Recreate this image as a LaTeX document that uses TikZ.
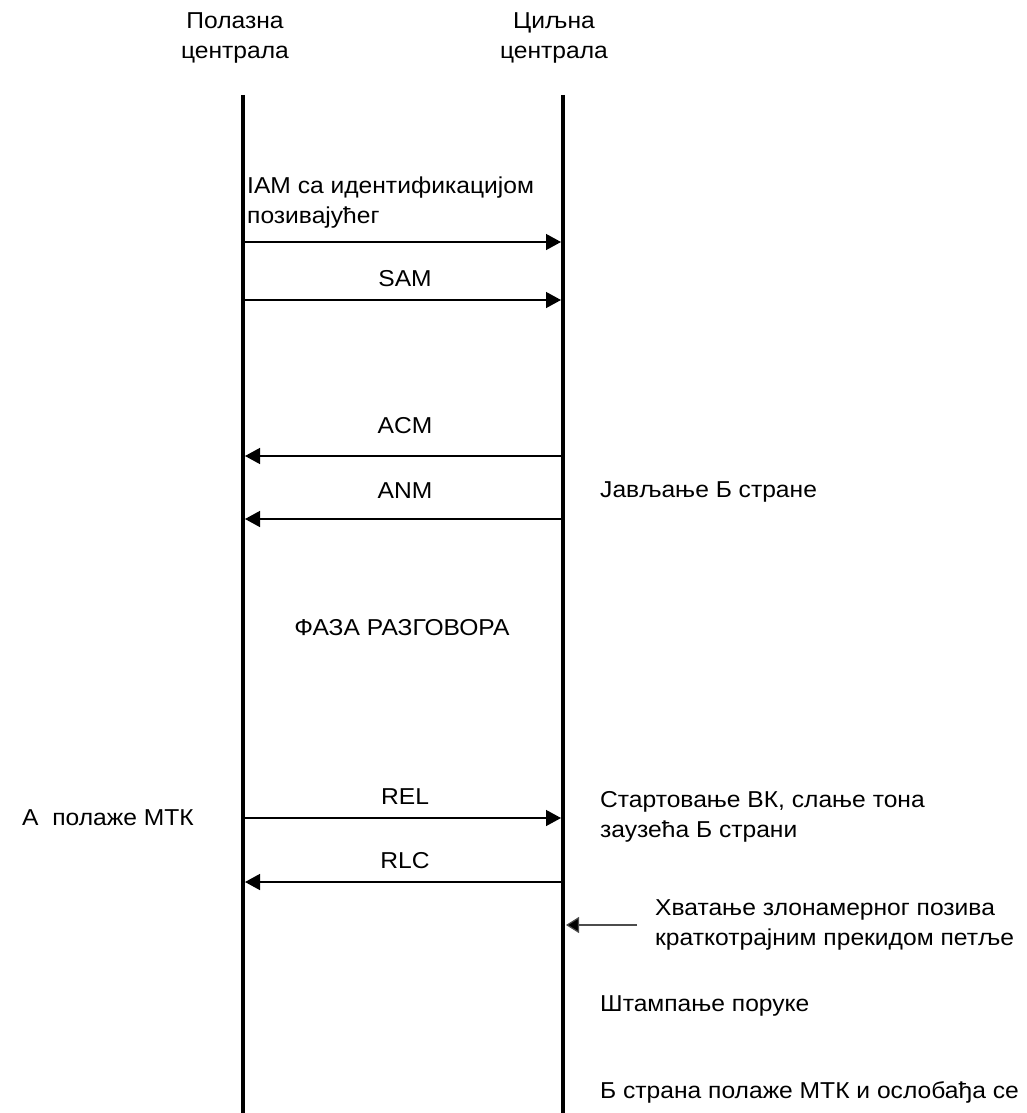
\documentclass[tikz,border=0pt]{standalone}
\usepackage{fontspec}
\setmainfont{Liberation Sans}[FakeStretch=1.07]
\usetikzlibrary{arrows.meta}
\begin{document}
\begin{tikzpicture}[x=1pt,y=-1pt,
  every node/.style={font=\fontsize{23}{30}\selectfont, inner sep=0pt},
  life/.style={line width=4pt},
  msg/.style={line width=1.4pt, -{Triangle[length=15pt,width=16pt]}},
  note/.style={anchor=west, align=left},
  hint/.style={line width=1.2pt, draw=black!70, -{Triangle[length=13pt,width=16pt,fill=black]}}]
\useasboundingbox (0,0) rectangle (1026,1113);
% headers
\node[align=center] (h1) at (235,38) {Полазна\\централа};
\node[align=center] (h2) at (554,38) {Циљна\\централа};
% lifelines
\coordinate (a0) at (243,95); \coordinate (a1) at (243,1113);
\coordinate (b0) at (563,95); \coordinate (b1) at (563,1113);
\draw[life] (a0) -- (a1);
\draw[life] (b0) -- (b1);
% messages
\coordinate (iamA) at (245,242); \coordinate (iamB) at (561,242);
\draw[msg] (iamA) -- (iamB);
\node[note] (iam) at (247,203) {IAM са идентификацијом\\позивајућег};
\coordinate (samA) at (245,300); \coordinate (samB) at (561,300);
\draw[msg] (samA) -- (samB);
\node (sam) at (405,279) {SAM};
\coordinate (acmA) at (245,456); \coordinate (acmB) at (561,456);
\draw[msg] (acmB) -- (acmA);
\node (acm) at (405,426) {ACM};
\coordinate (anmA) at (245,519); \coordinate (anmB) at (561,519);
\draw[msg] (anmB) -- (anmA);
\node (anm) at (405,491) {ANM};
\node[note] (jav) at (600,492) {Јављање Б стране};
\node (faza) at (402,628) {ФАЗА РАЗГОВОРА};
\coordinate (relA) at (245,818); \coordinate (relB) at (561,818);
\draw[msg] (relA) -- (relB);
\node (rel) at (405,797) {REL};
\node[note] (apol) at (22,818) {А\ \ полаже МТК};
\node[note] (start) at (600,817) {Стартовање ВК, слање тона\\заузећа Б страни};
\coordinate (rlcA) at (245,882); \coordinate (rlcB) at (561,882);
\draw[msg] (rlcB) -- (rlcA);
\node (rlc) at (405,861) {RLC};
\coordinate (hv0) at (637,925); \coordinate (hv1) at (566,925);
\draw[hint] (hv0) -- (hv1);
\node[note] (hvat) at (655,925) {Хватање злонамерног позива\\краткотрајним прекидом петље};
\node[note] (stamp) at (600,1006) {Штампање поруке};
\node[note] (bstr) at (600,1092) {Б страна полаже МТК и ослобађа се};
\end{tikzpicture}
\end{document}
